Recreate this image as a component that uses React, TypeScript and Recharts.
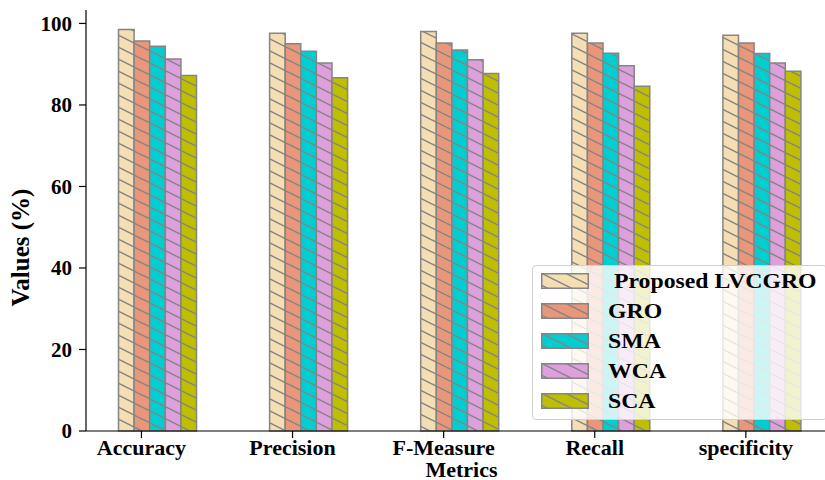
import React from 'react';
import { BarChart, Bar, XAxis, YAxis } from 'recharts';

const categories = ['Accuracy', 'Precision', 'F-Measure', 'Recall', 'specificity'];
const seriesNames = ['\u00a0Proposed LVCGRO', 'GRO', 'SMA', 'WCA', 'SCA'];
const seriesKeys = ['lvcgro', 'gro', 'sma', 'wca', 'sca'];
const colors = ['#f5deb3', '#e9967a', '#00ced1', '#dda0dd', '#bfbf00'];

const lvcgro = [98.5, 97.6, 98.0, 97.6, 97.1];
const gro = [95.7, 95.0, 95.2, 95.2, 95.2];
const sma = [94.4, 93.2, 93.5, 92.7, 92.6];
const wca = [91.3, 90.3, 91.1, 89.6, 90.3];
const sca = [87.2, 86.7, 87.7, 84.6, 88.3];

const yTicks = [0, 20, 40, 60, 80, 100];

const values = [lvcgro, gro, sma, wca, sca];
const data = categories.map((name, i) => {
  const row: any = { name };
  seriesKeys.forEach((k, s) => { row[k] = values[s][i]; });
  return row;
});

const FONT = '"Liberation Serif", "Times New Roman", serif';
const EDGE = '#858585';
const BAR_W = 15.6;

// matplotlib put the tick under the 2nd bar of each group
const CatTick = (props: any) => {
  const { x, y, payload } = props;
  const cx = x - BAR_W;
  return (
    <g>
      <line x1={cx} x2={cx} y1={y - 9} y2={y - 2} stroke="#000" strokeWidth={1.2} />
      <text x={cx} y={y + 15} textAnchor="middle" fontFamily={FONT} fontWeight="bold" fontSize={22} fill="#000">
        {payload.value}
      </text>
    </g>
  );
};

const XLabel = (props: any) => {
  const { viewBox } = props;
  return (
    <text x={viewBox.x + viewBox.width / 2} y={viewBox.y + 46} textAnchor="middle"
      fontFamily={FONT} fontWeight="bold" fontSize={22} fill="#000">
      Metrics
    </text>
  );
};

const YLabel = (props: any) => {
  const { viewBox } = props;
  const cy = viewBox.y + viewBox.height / 2 + 27;
  return (
    <text transform={`translate(20, ${cy}) rotate(-90)`} textAnchor="middle" dominantBaseline="central"
      fontFamily={FONT} fontWeight="bold" fontSize={25} fill="#000">
      Values (%)
    </text>
  );
};

const Hatch = ({ id, color }: { id: string; color: string }) => (
  <pattern id={id} patternUnits="userSpaceOnUse" width={24} height={12}>
    <rect width={24} height={12} fill={color} />
    <path d="M0,0 L24,12 M0,-12 L24,0 M0,12 L24,24" stroke={EDGE} strokeWidth={1.5} />
  </pattern>
);

const LegendBox = () => (
  <div style={{
    position: 'absolute', left: 532, top: 265, width: 295, height: 155,
    background: 'rgba(255,255,255,0.8)', border: '1px solid #d0d0d0', borderRadius: 4,
    boxSizing: 'border-box', paddingTop: 0,
  }}>
    {seriesNames.map((n, i) => (
      <div key={n} style={{ display: 'flex', alignItems: 'center', height: 30 }}>
        <svg width={48} height={16} style={{ marginLeft: 8, marginRight: 19, flex: 'none' }}>
          <defs><Hatch id={`lh${i}`} color={colors[i]} /></defs>
          <rect x={0.75} y={0.75} width={46.5} height={14.5} fill={`url(#lh${i})`} stroke={EDGE} strokeWidth={1.5} />
        </svg>
        <span style={{
          fontFamily: FONT, fontWeight: 'bold', fontSize: 22, color: '#000', whiteSpace: 'pre',
          display: 'inline-block', transform: 'scaleX(1.08)', transformOrigin: 'left center',
        }}>{n}</span>
      </div>
    ))}
  </div>
);

export default function App() {
  return (
    <div style={{ position: 'absolute', left: 0, top: 0, width: 825, height: 480, overflow: 'hidden', background: '#fff' }}>
      <BarChart width={837} height={480} data={data} margin={{ top: 10, right: 0, bottom: 0, left: 0 }}
        barGap={0} barSize={BAR_W} style={{ overflow: 'visible' }}>
        <defs>
          {colors.map((c, i) => <Hatch key={i} id={`h${i}`} color={c} />)}
        </defs>
        <XAxis dataKey="name" height={49} padding={{ left: -4.5, right: 0 }}
          axisLine={{ stroke: '#000', strokeWidth: 1.2 }} tickLine={{ stroke: 'none' }}
          tickSize={7} tickMargin={2} tick={<CatTick />} interval={0}
          label={<XLabel />} />
        <XAxis xAxisId="top" dataKey="name" orientation="top" height={0} tick={false} tickLine={false}
          axisLine={{ stroke: '#333', strokeWidth: 1.5 }} />
        <YAxis width={86} domain={[0, 103.3]} ticks={yTicks} interval={0}
          axisLine={{ stroke: '#000', strokeWidth: 1.2 }} tickLine={{ stroke: '#000', strokeWidth: 1.2 }}
          tickSize={7} tickMargin={7}
          tick={{ fontFamily: FONT, fontWeight: 'bold', fontSize: 21, fill: '#000' }}
          label={<YLabel />} />
        {seriesKeys.map((k, i) => (
          <Bar key={k} dataKey={k} name={seriesNames[i]} fill={`url(#h${i})`} stroke={EDGE} strokeWidth={1.5}
            isAnimationActive={false} />
        ))}
      </BarChart>
      <LegendBox />
    </div>
  );
}
